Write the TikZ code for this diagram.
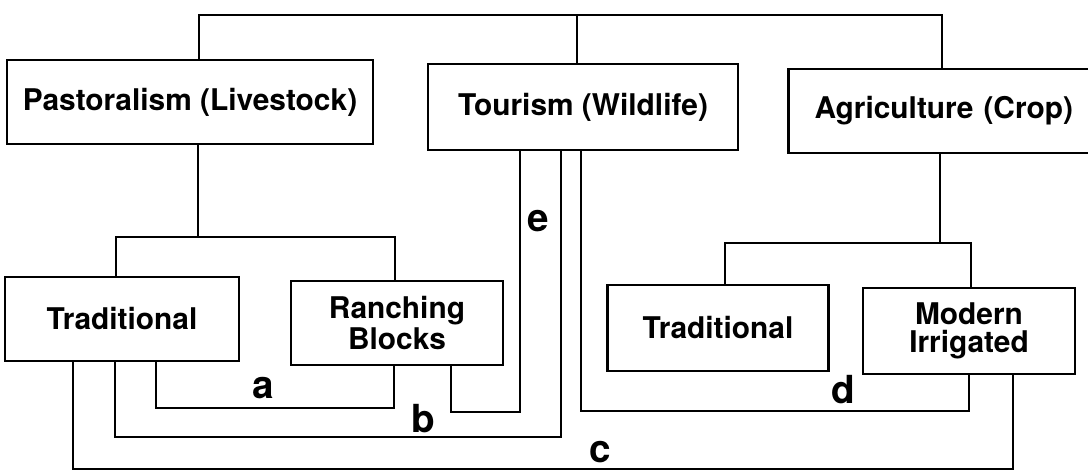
\documentclass[tikz,border=0pt]{standalone}
\usepackage{fontspec}
\setsansfont{TeX Gyre Heros}
\usepackage{tikz}

\begin{document}
\begin{tikzpicture}[x=0.02cm, y=-0.02cm, line width=1.4pt,
box/.style={draw, align=center, inner sep=0pt,
    font=\sffamily\bfseries\fontsize{17}{16}\selectfont},
tag/.style={anchor=base, inner sep=0pt,
    font=\sffamily\bfseries\fontsize{22}{22}\selectfont}]
\useasboundingbox (0,0) rectangle (1088,476);
% land uses
\node[box, minimum width=7.32cm, minimum height=1.68cm] (past) at (190,102) {Pastoralism (Livestock)};
\node[box, minimum width=6.2cm, minimum height=1.72cm] (tour) at (583,107) {Tourism (Wildlife)};
\node[box, minimum height=1.68cm, text width=5.3cm, inner xsep=0.52cm, align=left] (agri) at (947,111) {Agriculture (Crop)};
% sub types
\node[box, minimum width=4.68cm, minimum height=1.68cm] (ptrad) at (122,319) {Traditional};
\node[box, minimum width=4.24cm, minimum height=1.68cm] (ranch) at (397,323) {Ranching\\Blocks};
\node[box, minimum width=4.42cm, minimum height=1.72cm] (ctrad) at (718,328) {Traditional};
\node[box, minimum width=4.24cm, minimum height=1.72cm] (modern) at (969,331) {Modern\\Irrigated};
% tree
\draw (past.north -| 199,0) -- (199,15) -| (agri.north -| 942,0);
\draw (577,15) -- (tour.north -| 577,0);
\draw (past.south -| 198,0) -- (198,237);
\draw (ptrad.north -| 116,0) -- (116,237) -| (ranch.north -| 395,0);
\draw (agri.south -| 940,0) -- (940,243);
\draw (ctrad.north -| 725,0) -- (725,243) -| (modern.north -| 971,0);
% interactions
\draw (ptrad.south -| 156,0) -- (156,408) -| (ranch.south -| 394,0);
\draw (ptrad.south -| 115,0) -- (115,437) -| (tour.south -| 561,0);
\draw (ptrad.south -| 73,0) -- (73,469) -| (modern.south -| 1013,0);
\draw (tour.south -| 581,0) -- (581,411) -| (modern.south -| 969,0);
\draw (tour.south -| 520,0) -- (520,412) -| (ranch.south -| 451,0);
\node[tag] (a) at (263,398) {a};
\node[tag] (b) at (423,432) {b};
\node[tag] (c) at (600,462) {c};
\node[tag] (d) at (843,403) {d};
\node[tag] (e) at (538,232) {e};
\end{tikzpicture}
\end{document}
